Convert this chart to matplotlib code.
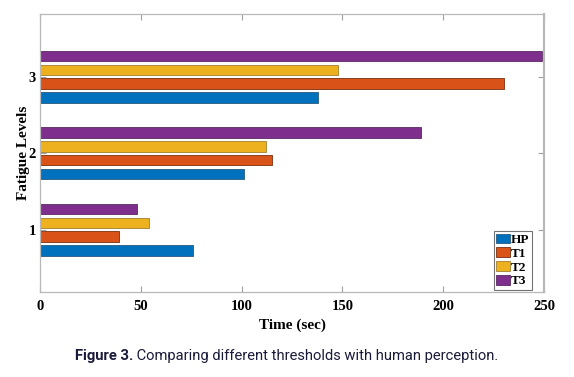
import matplotlib
matplotlib.use("Agg")
import matplotlib.pyplot as plt
import numpy as np

levels = [1, 2, 3]
series = ["HP", "T1", "T2", "T3"]
hp = [76, 101, 138]
t1 = [39, 115, 230]
t2 = [54, 112, 148]
t3 = [48, 189, 249]
colors = ["#0072BD", "#D95319", "#EDB120", "#7E2F8E"]
edges = ["#2a5a80", "#7a3010", "#a08030", "#5a2a60"]
xticks = [0, 50, 100, 150, 200, 250]

fig = plt.figure(figsize=(5.74, 3.77), dpi=100)
ax = fig.add_axes([40/574, 1-292/377, 504/574, 278/377])
serif = "Liberation Serif"
step = 0.18
h = 0.137
y = np.array(levels, dtype=float)
for i, (name, vals) in enumerate(zip(series, [hp, t1, t2, t3])):
    ax.barh(y + (i - 1.5) * step, vals, height=h, color=colors[i],
            edgecolor=edges[i], linewidth=0.6, label=name)

ax.set_xlim(0, 250)
ax.set_ylim(0.185, 3.82)
ax.set_xticks(xticks)
ax.set_yticks(levels)
ax.tick_params(direction="in", top=True, right=True, length=4, color="#a0a0a0",
               width=0.8)
ax.tick_params(axis="x", pad=6)
ax.tick_params(axis="y", pad=3)
for lab in ax.get_xticklabels() + ax.get_yticklabels():
    lab.set_fontfamily(serif)
    lab.set_fontweight("bold")
    lab.set_fontsize(10.5)
for s in ax.spines.values():
    s.set_color("#b8b8b8")
    s.set_linewidth(0.9)
ax.spines["right"].set_linewidth(1.6)

ax.set_xlabel("Time (sec)", fontfamily=serif, fontweight="bold", fontsize=11, labelpad=4)
ax.set_ylabel("Fatigue Levels", fontfamily=serif, fontweight="bold", fontsize=11, labelpad=-1)

leg = ax.legend(loc="lower right", bbox_to_anchor=(532/574, 1-290/377),
                bbox_transform=fig.transFigure,
                prop={"family": serif, "weight": "bold", "size": 9.5},
                frameon=True, fancybox=False, borderpad=0.2, labelspacing=0.1,
                handlelength=1.0, handleheight=0.75, handletextpad=0.1,
                borderaxespad=0.0)
leg.get_frame().set_edgecolor("#505050")
leg.get_frame().set_linewidth(0.8)

cap_y = 1-356/377
fs = 10.6
a = fig.text(0.0, cap_y, "Figure 3.", fontfamily="Roboto", fontweight="bold",
             fontsize=fs, color="#1a1a3a", va="center")
b = fig.text(0.0, cap_y, " Comparing different thresholds with human perception.",
             fontfamily="Roboto", fontsize=fs, color="#1a1a3a", va="center")
fig.canvas.draw()
r = fig.canvas.get_renderer()
wa = a.get_window_extent(r).width
wb = b.get_window_extent(r).width
W = fig.bbox.width
x0 = 286.5 - (wa + wb) / 2
a.set_x(x0 / W)
b.set_x((x0 + wa) / W)

fig.savefig("out.png", dpi=100)
